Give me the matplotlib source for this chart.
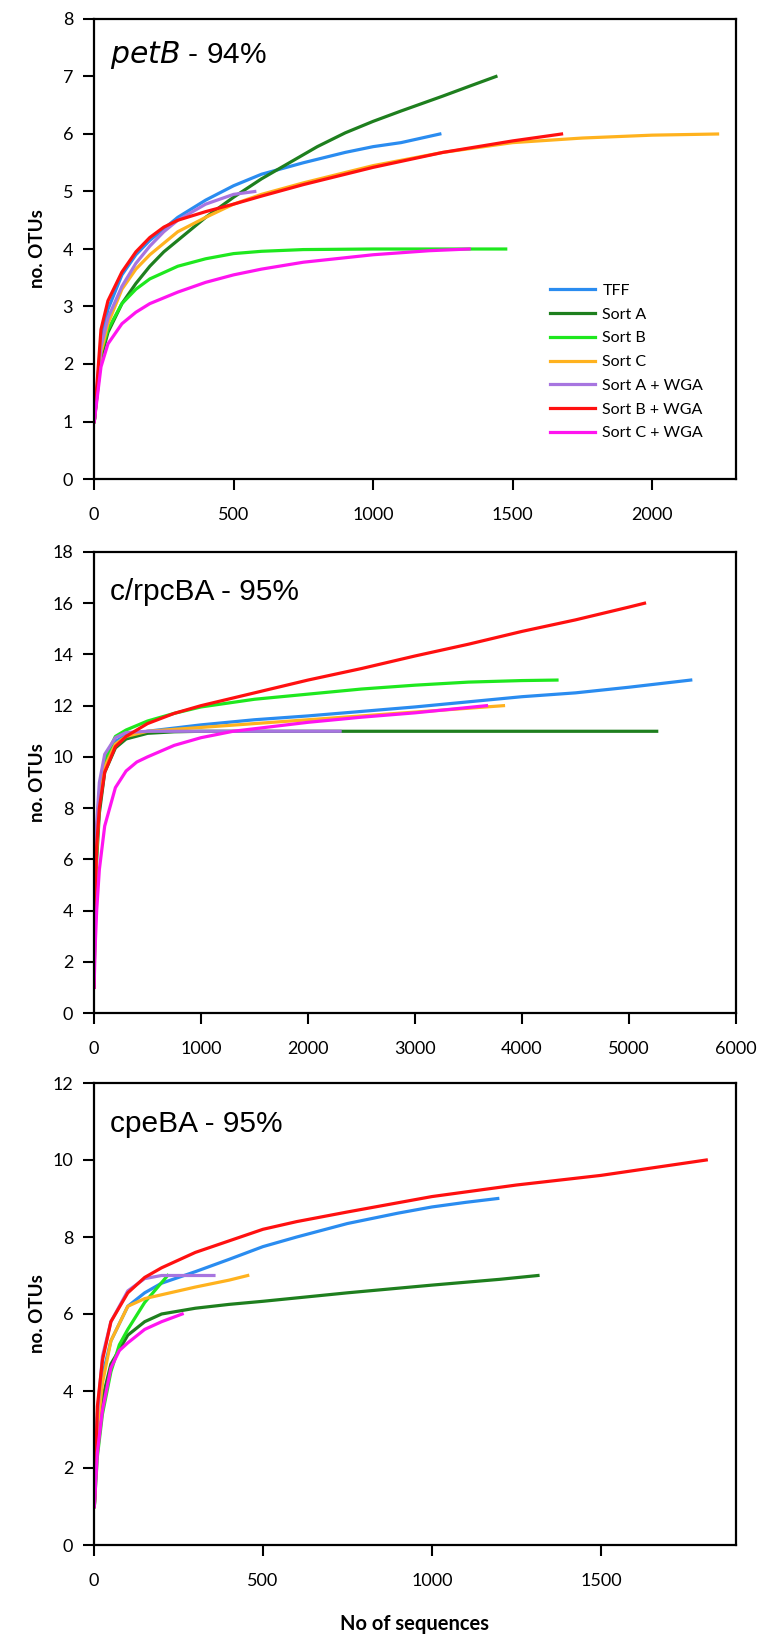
import matplotlib
matplotlib.use("Agg")
import matplotlib.pyplot as plt

plt.rcParams['font.family'] = ['Lato', 'DejaVu Sans']

labels = ["TFF", "Sort A", "Sort B", "Sort C", "Sort A + WGA", "Sort B + WGA", "Sort C + WGA"]
colors = ["#2A8CF0", "#1E7F1E", "#1EE81E", "#FFB21E", "#A775E0", "#FF1010", "#FF14F0"]

# panel 1: petB - 94%
petb_x = [
    [1, 25, 50, 100, 150, 200, 250, 300, 400, 500, 600, 750, 900, 1000, 1100, 1239],
    [1, 25, 50, 100, 150, 200, 250, 300, 400, 500, 600, 700, 800, 900, 1000, 1100, 1250, 1350, 1440],
    [1, 25, 50, 100, 150, 200, 300, 400, 500, 600, 750, 1000, 1475],
    [1, 25, 50, 100, 150, 200, 300, 400, 500, 600, 750, 1000, 1250, 1500, 1750, 2000, 2234],
    [1, 25, 50, 100, 150, 200, 250, 300, 400, 500, 576],
    [1, 25, 50, 100, 150, 200, 250, 300, 400, 500, 600, 750, 1000, 1250, 1500, 1675],
    [1, 25, 50, 100, 150, 200, 300, 400, 500, 600, 750, 1000, 1200, 1344],
]
petb_y = [
    [1, 2.4, 2.95, 3.55, 3.9, 4.15, 4.35, 4.55, 4.85, 5.1, 5.3, 5.5, 5.68, 5.78, 5.85, 6.0],
    [1, 2.1, 2.55, 3.05, 3.4, 3.7, 3.95, 4.15, 4.55, 4.9, 5.22, 5.5, 5.78, 6.02, 6.22, 6.4, 6.66, 6.84, 7.0],
    [1, 2.2, 2.6, 3.05, 3.3, 3.48, 3.7, 3.83, 3.92, 3.96, 3.99, 4.0, 4.0],
    [1, 2.2, 2.7, 3.3, 3.65, 3.9, 4.3, 4.55, 4.78, 4.95, 5.15, 5.45, 5.68, 5.85, 5.93, 5.98, 6.0],
    [1, 2.3, 2.8, 3.35, 3.75, 4.05, 4.3, 4.5, 4.78, 4.95, 5.0],
    [1, 2.6, 3.1, 3.6, 3.95, 4.2, 4.38, 4.5, 4.65, 4.78, 4.92, 5.12, 5.42, 5.68, 5.88, 6.0],
    [1, 1.95, 2.35, 2.7, 2.9, 3.05, 3.25, 3.42, 3.55, 3.65, 3.77, 3.9, 3.97, 4.0],
]

# panel 2: c/rpcBA - 95%
rpc_x = [
    [1, 10, 25, 50, 100, 200, 300, 500, 1000, 1500, 2000, 3000, 4000, 4500, 5000, 5577],
    [1, 10, 25, 50, 100, 200, 300, 500, 750, 1000, 5259],
    [1, 10, 25, 50, 100, 200, 300, 500, 750, 1000, 1500, 2000, 2500, 3000, 3500, 4000, 4327],
    [1, 10, 25, 50, 100, 200, 300, 500, 1000, 1500, 2000, 2500, 3000, 3500, 3827],
    [1, 10, 25, 50, 100, 200, 300, 500, 2300],
    [1, 10, 25, 50, 100, 200, 300, 500, 750, 1000, 1500, 2000, 2500, 3000, 3500, 4000, 4500, 5000, 5145],
    [1, 10, 25, 50, 100, 200, 300, 400, 500, 750, 1000, 1300, 2000, 2500, 3000, 3668],
]
rpc_y = [
    [1, 5.0, 7.0, 8.6, 9.8, 10.6, 10.85, 11.0, 11.25, 11.45, 11.6, 11.95, 12.35, 12.5, 12.72, 13.0],
    [1, 4.0, 6.0, 7.8, 9.4, 10.35, 10.7, 10.92, 10.98, 11.0, 11.0],
    [1, 4.5, 6.6, 8.4, 9.9, 10.8, 11.05, 11.4, 11.7, 11.95, 12.25, 12.45, 12.65, 12.8, 12.92, 12.98, 13.0],
    [1, 4.3, 6.4, 8.2, 9.6, 10.5, 10.8, 11.0, 11.15, 11.3, 11.45, 11.6, 11.75, 11.9, 12.0],
    [1, 5.2, 7.4, 9.0, 10.1, 10.75, 10.95, 11.0, 11.0],
    [1, 4.5, 6.5, 8.0, 9.4, 10.4, 10.8, 11.3, 11.7, 12.0, 12.5, 13.0, 13.45, 13.94, 14.4, 14.9, 15.35, 15.85, 16.0],
    [1, 2.5, 4.0, 5.6, 7.3, 8.8, 9.45, 9.8, 10.0, 10.45, 10.75, 11.0, 11.35, 11.55, 11.72, 12.0],
]

# panel 3: cpeBA - 95%
cpe_x = [
    [1, 10, 25, 50, 100, 150, 200, 300, 400, 500, 600, 750, 900, 1000, 1100, 1195],
    [1, 10, 25, 50, 100, 150, 200, 300, 400, 500, 750, 1000, 1200, 1314],
    [1, 10, 25, 50, 75, 100, 150, 218],
    [1, 10, 25, 50, 100, 150, 200, 300, 400, 455],
    [1, 10, 25, 50, 100, 150, 200, 355],
    [1, 10, 25, 50, 100, 150, 200, 300, 400, 500, 600, 750, 1000, 1250, 1500, 1812],
    [1, 10, 25, 50, 75, 100, 150, 200, 261],
]
cpe_y = [
    [1, 3.3, 4.4, 5.3, 6.2, 6.55, 6.8, 7.1, 7.42, 7.75, 8.0, 8.35, 8.62, 8.78, 8.9, 9.0],
    [1, 2.8, 3.8, 4.7, 5.45, 5.8, 6.0, 6.15, 6.25, 6.33, 6.55, 6.75, 6.9, 7.0],
    [1, 2.3, 3.4, 4.5, 5.2, 5.6, 6.3, 7.0],
    [1, 3.0, 4.2, 5.3, 6.2, 6.4, 6.5, 6.7, 6.88, 7.0],
    [1, 3.4, 4.9, 5.8, 6.6, 6.92, 7.0, 7.0],
    [1, 3.6, 4.8, 5.8, 6.55, 6.95, 7.2, 7.6, 7.9, 8.2, 8.4, 8.65, 9.05, 9.35, 9.6, 10.0],
    [1, 2.4, 3.5, 4.6, 5.05, 5.25, 5.6, 5.8, 6.0],
]

panels = [
    (petb_x, petb_y, 2300, 8, 1, [0, 500, 1000, 1500, 2000], 19, 479),
    (rpc_x, rpc_y, 6000, 18, 2, [0, 1000, 2000, 3000, 4000, 5000, 6000], 552, 1013),
    (cpe_x, cpe_y, 1900, 12, 2, [0, 500, 1000, 1500], 1083, 1545),
]

W, H = 761, 1636
fig = plt.figure(figsize=(W / 100, H / 100), dpi=100)

axes = []
for xs, ys, xmax, ymax, ystep, xticks, top, bottom in panels:
    ax = fig.add_axes([94 / W, 1 - bottom / H, (736 - 94) / W, (bottom - top) / H])
    for i in range(len(labels)):
        ax.plot(xs[i], ys[i], color=colors[i], lw=2.3, label=labels[i])
    ax.set_xlim(0, xmax)
    ax.set_ylim(0, ymax)
    ax.set_xticks(xticks)
    ax.set_yticks(range(0, ymax + 1, ystep))
    ax.tick_params(direction='out', length=8, width=1.5, labelsize=13)
    ax.tick_params(axis='x', pad=12)
    ax.tick_params(axis='y', pad=7)
    for s in ax.spines.values():
        s.set_linewidth(1.6)
    ax.set_ylabel("no. OTUs", fontsize=13.5, fontweight='bold')
    ax.yaxis.set_label_coords(-0.075, 0.5)
    axes.append(ax)

title_kw = dict(family='Liberation Sans', fontsize=21.5, va='baseline')
axes[0].text(0.025, 0.905, "$\\it{petB}$ - 94%", transform=axes[0].transAxes, **title_kw)
axes[1].text(0.025, 0.895, "c/rpcBA - 95%", transform=axes[1].transAxes, **title_kw)
axes[2].text(0.025, 0.895, "cpeBA - 95%", transform=axes[2].transAxes, **title_kw)

axes[0].legend(loc='lower left', bbox_to_anchor=(0.70, 0.07), frameon=False,
               fontsize=11.5, handlelength=2.8, labelspacing=0.6, handletextpad=0.5,
               borderaxespad=0)

axes[2].set_xlabel("No of sequences", fontsize=14.5, fontweight='bold')
axes[2].xaxis.set_label_coords(0.5, -0.15)

fig.savefig("out.png", dpi=100, facecolor='white')
